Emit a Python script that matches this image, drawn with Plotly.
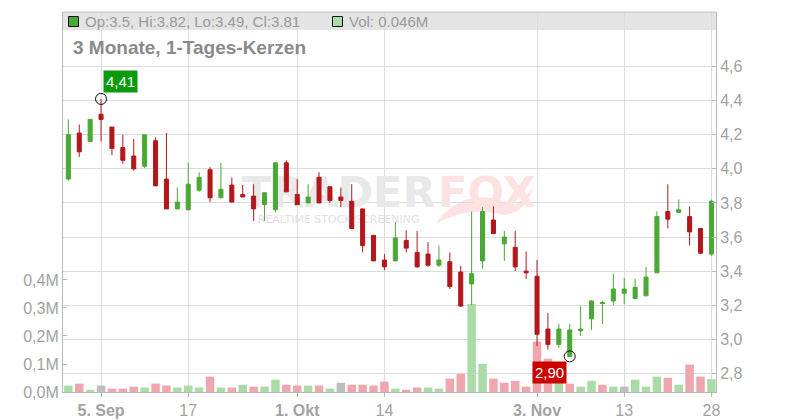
import plotly.graph_objects as go

# ---- data (trading-day index 0..59) ----
opens  = [3.94, 4.21, 4.16, 4.32, 4.245, 4.125, 4.075, 4.015, 4.165, 3.94,
          3.765, 3.76, 3.875, 3.995, 3.83, 3.905, 3.85, 3.84, 3.79, 3.76,
          4.035, 3.85, 3.80, 3.95, 3.895, 3.835, 3.81, 3.765, 3.61, 3.465,
          3.46, 3.58, 3.51, 3.50, 3.435, 3.455, 3.395, 3.325, 3.46, 3.70,
          3.56, 3.54, 3.40, 3.37, 3.06, 2.97, 2.90, 3.05, 3.12, 3.21,
          3.225, 3.27, 3.24, 3.255, 3.39, 3.75, 3.745, 3.72, 3.65, 3.50]
highs  = [4.29, 4.26, 4.29, 4.41, 4.245, 4.20, 4.175, 4.20, 4.185, 4.21,
          3.89, 4.035, 3.98, 4.01, 4.035, 3.95, 3.905, 3.91, 3.86, 4.035,
          4.05, 3.94, 3.91, 3.98, 3.895, 3.89, 3.91, 3.765, 3.61, 3.50,
          3.69, 3.64, 3.635, 3.57, 3.55, 3.51, 3.43, 3.75, 3.775, 3.78,
          3.635, 3.635, 3.515, 3.465, 3.155, 3.09, 3.09, 3.195, 3.23, 3.225,
          3.385, 3.36, 3.355, 3.425, 3.75, 3.91, 3.82, 3.78, 3.65, 3.82]
lows   = [3.93, 4.07, 4.16, 4.16, 4.08, 4.03, 3.99, 4.005, 3.90, 3.765,
          3.765, 3.76, 3.865, 3.805, 3.83, 3.805, 3.835, 3.695, 3.695, 3.745,
          3.865, 3.79, 3.80, 3.80, 3.80, 3.775, 3.65, 3.51, 3.46, 3.405,
          3.46, 3.51, 3.42, 3.425, 3.425, 3.295, 3.19, 3.20, 3.415, 3.62,
          3.46, 3.40, 3.355, 2.96, 2.94, 2.95, 2.90, 3.02, 3.055, 3.09,
          3.20, 3.205, 3.235, 3.255, 3.39, 3.65, 3.74, 3.55, 3.50, 3.49]
closes = [4.20, 4.10, 4.29, 4.29, 4.12, 4.05, 4.00, 4.20, 3.90, 3.765,
          3.805, 3.91, 3.95, 3.83, 3.88, 3.805, 3.835, 3.765, 3.86, 4.035,
          3.865, 3.79, 3.835, 3.80, 3.815, 3.815, 3.65, 3.55, 3.46, 3.425,
          3.595, 3.535, 3.425, 3.435, 3.465, 3.31, 3.195, 3.385, 3.75, 3.62,
          3.60, 3.425, 3.39, 3.03, 2.97, 3.06, 3.055, 3.06, 3.225, 3.215,
          3.295, 3.295, 3.305, 3.365, 3.72, 3.705, 3.76, 3.63, 3.505, 3.81]
volumes = [0.023, 0.030, 0.008, 0.023, 0.012, 0.012, 0.019, 0.016, 0.030, 0.023,
           0.016, 0.023, 0.016, 0.055, 0.016, 0.016, 0.026, 0.019, 0.019, 0.044,
           0.026, 0.023, 0.023, 0.023, 0.012, 0.033, 0.026, 0.026, 0.023, 0.037,
           0.012, 0.008, 0.016, 0.016, 0.012, 0.048, 0.065, 0.314, 0.101, 0.048,
           0.033, 0.040, 0.019, 0.180, 0.119, 0.040, 0.030, 0.019, 0.040, 0.026,
           0.019, 0.019, 0.044, 0.019, 0.055, 0.051, 0.026, 0.098, 0.055, 0.046]
tick_idx = [3, 11, 21, 29, 43, 51, 59]
tick_labels = ["<b>5. Sep</b>", "17", "<b>1. Okt</b>", "14", "<b>3. Nov</b>", "13", "28"]
price_ticks = [2.8, 3.0, 3.2, 3.4, 3.6, 3.8, 4.0, 4.2, 4.4, 4.6]
vol_ticks = [0.0, 0.1, 0.2, 0.3, 0.4]
vol_tick_labels = ["0,0M", "0,1M", "0,2M", "0,3M", "0,4M"]
hi_idx, hi_val, hi_text = 3, 4.41, "4,41"
lo_idx, lo_val, lo_text = 46, 2.90, "2,90"
legend_text = "Op:3.5, Hi:3.82, Lo:3.49, Cl:3.81"
vol_text = "Vol: 0.046M"
title_text = "3 Monate, 1-Tages-Kerzen"

x = list(range(len(opens)))

GREEN = "#49a934"
RED = "#b3171c"
VGREEN = "#abdca8"
VRED = "#f0a6ae"
VGRAY = "#bebebe"
GRID = "#dcdcdc"
AXIS = "#b8b8b8"
TXT = "#a2a2a2"

vcolors = []
for i, c in enumerate(closes):
    if i == 0:
        vcolors.append(VGREEN)
        continue
    d = round(c - closes[i - 1], 4)
    vcolors.append(VGREEN if d > 0 else (VRED if d < 0 else VGRAY))

# pixel helpers for decorations (plot area 63..716 x 12..392)
L, R, T, B = 63, 716, 12, 392
def px(v):
    return (v - L) / (R - L)
def py(v):
    return (B - v) / (B - T)

fig = go.Figure()

fig.add_trace(go.Bar(x=x, y=volumes, marker=dict(color=vcolors, line_width=0),
                     width=0.78, yaxis="y", hoverinfo="skip"))

# watermark (below candles)
fig.add_trace(go.Scatter(x=[24.8], y=[0.70], mode="text", text=["TRADER"],
                         textfont=dict(family="DejaVu Sans", size=43, color="#e9e9e9", weight="bold"),
                         yaxis="y", hoverinfo="skip"))
fig.add_trace(go.Scatter(x=[38.4], y=[0.70], mode="text", text=["FOX"],
                         textfont=dict(family="DejaVu Sans", size=43, color="#fde2e2", weight="bold"),
                         yaxis="y", hoverinfo="skip"))
fig.add_trace(go.Scatter(x=[24.8], y=[0.613], mode="text", text=["REALTIME STOCK SCREENING"],
                         textfont=dict(family="DejaVu Sans", size=11, color="#e2e2e2"),
                         yaxis="y", hoverinfo="skip"))

fig.add_trace(go.Candlestick(
    x=x, open=opens, high=highs, low=lows, close=closes, yaxis="y2",
    increasing=dict(line=dict(color=GREEN, width=1), fillcolor=GREEN),
    decreasing=dict(line=dict(color=RED, width=1), fillcolor=RED),
    whiskerwidth=0, hoverinfo="skip"))

fig.add_trace(go.Scatter(x=[hi_idx, lo_idx], y=[hi_val, lo_val], mode="markers", yaxis="y2",
                         marker=dict(symbol="circle-open", size=11, color="#111111", line=dict(width=1)),
                         hoverinfo="skip"))

fig.add_annotation(x=hi_idx, y=hi_val, xref="x", yref="y2", text=hi_text, showarrow=False,
                   xanchor="left", yanchor="bottom", xshift=2, yshift=6,
                   bgcolor="#0a9a0a", borderpad=2, font=dict(family="Liberation Sans", size=15, color="white"))
fig.add_annotation(x=lo_idx, y=lo_val, xref="x", yref="y2", text=lo_text, showarrow=False,
                   xanchor="right", yanchor="top", xshift=-3, yshift=-5,
                   bgcolor="#cc0000", borderpad=2, font=dict(family="Liberation Sans", size=15, color="white"))

# faint fox-tail swoosh of the watermark logo
def P(xp, yp):
    return f"{px(xp):.4f},{py(yp):.4f}"
swoosh = (f"M {P(436, 224)} C {P(450, 200)} {P(482, 190)} {P(505, 203)} "
          f"C {P(516, 209)} {P(526, 199)} {P(533, 186)} "
          f"C {P(529, 205)} {P(515, 218)} {P(499, 214)} "
          f"C {P(480, 209)} {P(455, 212)} {P(436, 224)} Z")
fig.add_shape(type="path", xref="paper", yref="paper", path=swoosh,
              fillcolor="#fde2e2", line_width=0, layer="below")

# legend bar & title
fig.add_shape(type="rect", xref="paper", yref="paper", x0=0, x1=1, y0=py(30), y1=1,
              fillcolor="#e4e4e4", line_width=0, layer="below")
fig.add_shape(type="line", xref="paper", yref="paper", x0=0, x1=1, y0=1, y1=1,
              line=dict(color="#c4c4c4", width=1))
fig.add_shape(type="rect", xref="paper", yref="paper", x0=px(68.5), x1=px(78.5), y0=py(26.5), y1=py(16.5),
              fillcolor=GREEN, line=dict(color="#111111", width=1))
fig.add_shape(type="rect", xref="paper", yref="paper", x0=px(332.5), x1=px(342.5), y0=py(26.5), y1=py(16.5),
              fillcolor=VGREEN, line=dict(color="#111111", width=1))
fig.add_annotation(x=px(83), y=py(21.5), xref="paper", yref="paper", text=legend_text, showarrow=False,
                   xanchor="left", yanchor="middle", font=dict(family="Liberation Sans", size=15, color="#9a9a9a"))
fig.add_annotation(x=px(347), y=py(21.5), xref="paper", yref="paper", text=vol_text, showarrow=False,
                   xanchor="left", yanchor="middle", font=dict(family="Liberation Sans", size=15, color="#9a9a9a"))
fig.add_annotation(x=px(71), y=py(47.5), xref="paper", yref="paper", text="<b>" + title_text + "</b>",
                   showarrow=False, xanchor="left", yanchor="middle",
                   font=dict(family="Liberation Sans", size=19, color="#8a8a8a"))

fig.update_layout(
    width=800, height=420, autosize=False,
    margin=dict(l=L, r=800 - R, t=T, b=420 - B, pad=0, autoexpand=False),
    paper_bgcolor="white", plot_bgcolor="white",
    showlegend=False, separators=",.",
    boxgap=0.63, boxgroupgap=0, bargap=0.2,
    font=dict(family="Liberation Sans", color=TXT, size=16),
    xaxis=dict(range=[-0.49, 59.42], tickvals=tick_idx, ticktext=tick_labels, automargin=False,
               showgrid=True, gridcolor=GRID, gridwidth=1, zeroline=False,
               showline=True, linecolor=AXIS, linewidth=1, ticks="outside", ticklen=4, tickcolor=AXIS,
               tickfont=dict(size=16, color=TXT), rangeslider=dict(visible=False), fixedrange=True),
    yaxis=dict(range=[0, 1.357], tickvals=vol_ticks, ticktext=vol_tick_labels, automargin=False,
               showgrid=False, zeroline=False, side="left",
               showline=True, linecolor=AXIS, linewidth=1, ticks="inside", ticklen=4, tickcolor=AXIS,
               tickfont=dict(size=16, color=TXT), fixedrange=True),
    yaxis2=dict(range=[2.691, 4.920], tickvals=price_ticks, tickformat=".1f", overlaying="y", side="right",
                automargin=False,
                showgrid=True, gridcolor=GRID, gridwidth=1, zeroline=False,
                showline=True, linecolor=AXIS, linewidth=1, ticks="inside", ticklen=4, tickcolor=AXIS,
                tickfont=dict(size=16, color=TXT), fixedrange=True),
)

fig.write_html("out.html", config={"displayModeBar": False, "responsive": False},
               post_script="document.body.style.margin='0';document.body.style.overflow='hidden';")
